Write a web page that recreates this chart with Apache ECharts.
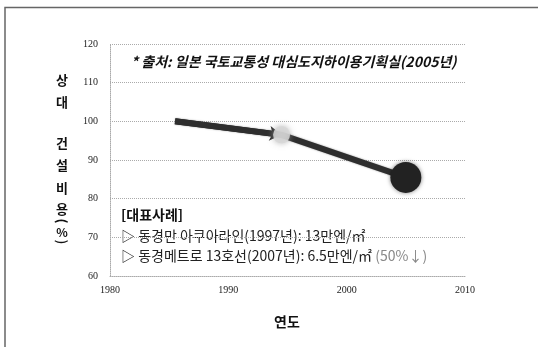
<!DOCTYPE html>
<html>
<head>
<meta charset="utf-8">
<script src="https://cdn.jsdelivr.net/npm/echarts@6/dist/echarts.min.js"></script>
<style>
  html, body { margin: 0; padding: 0; background: #fff; }
  #chart { width: 538px; height: 347px; }
</style>
</head>
<body>
<div id="chart"></div>
<script>
// Relative construction cost of deep underground works (1985 = 100)
const years = [1985.5, 1994.5, 2005];
const costIndex = [100, 96.5, 85.5];

const xTicks = { min: 1980, max: 2010, step: 10 };
const yTicks = { min: 60, max: 120, step: 10 };

const sourceNote = '* 출처: 일본 국토교통성 대심도지하이용기획실(2005년)';
const caseTitle = '[대표사례]';
const caseLines = [
  '▷ 동경만 아쿠아라인(1997년): 13만엔/㎡',
  '▷ 동경메트로 13호선(2007년): 6.5만엔/㎡'
];
const caseNote = '(50%↓)';
const xTitle = '연도';
const yTitleChars = ['상', '대', '건', '설', '비', '용', '(', '%', ')'];

const chart = echarts.init(document.getElementById('chart'), null, { renderer: 'canvas' });

const kfont = '"Noto Sans CJK KR", "Noto Sans", sans-serif';
const numFont = '"Liberation Serif", "DejaVu Serif", serif';

const points = years.map((y, i) => {
  const last = i === years.length - 1;
  const mid = i > 0 && !last;
  return {
    value: [y, costIndex[i]],
    symbol: i === 0 ? 'none' : 'circle',
    symbolSize: last ? 31 : 17,
    itemStyle: last
      ? { color: '#222', shadowBlur: 4, shadowColor: 'rgba(0,0,0,0.5)' }
      : (mid ? { color: 'rgba(215,215,215,0.85)', shadowBlur: 6, shadowColor: 'rgba(160,160,160,0.9)' } : {})
  };
});

// vertical y-axis title, one glyph per slot; brackets turned to read vertically
const yTitleY = [80, 102, 143, 165, 188, 209, 221, 232, 242];
const yTitleGraphics = yTitleChars.map((ch, i) => {
  const isBracket = ch === '(' || ch === ')';
  return {
    type: 'text',
    x: 62,
    y: yTitleY[i],
    rotation: isBracket ? -Math.PI / 2 : 0,
    style: {
      text: ch,
      font: 'bold ' + (ch === '%' ? 12 : 13) + 'px ' + kfont,
      fill: '#111',
      align: 'center',
      verticalAlign: 'middle'
    }
  };
});

const lineColor = '#2e2e2e';

chart.setOption({
  animation: false,
  backgroundColor: '#fff',
  grid: { left: 110, right: 73, top: 44, bottom: 71, containLabel: false },
  xAxis: {
    type: 'value',
    min: xTicks.min,
    max: xTicks.max,
    interval: xTicks.step,
    axisLine: { show: true, lineStyle: { color: '#aaa', type: 'dotted', width: 1 } },
    axisTick: { show: false },
    splitLine: { show: false },
    axisLabel: { color: '#222', fontFamily: numFont, fontSize: 10, margin: 9, formatter: v => String(v) }
  },
  yAxis: {
    type: 'value',
    min: yTicks.min,
    max: yTicks.max,
    interval: yTicks.step,
    axisLine: { show: true, lineStyle: { color: '#aaa', type: 'dotted', width: 1 } },
    axisTick: { show: false },
    splitLine: { show: true, lineStyle: { color: '#aaa', type: 'dotted', width: 1 } },
    axisLabel: { color: '#222', fontFamily: numFont, fontSize: 10, margin: 12, formatter: v => String(v) }
  },
  series: [{
    type: 'line',
    data: points,
    lineStyle: { color: lineColor, width: 6, cap: 'butt', shadowBlur: 2, shadowColor: 'rgba(0,0,0,0.4)' },
    markLine: {
      silent: true,
      symbol: ['none', 'arrow'],
      symbolSize: [11, 12],
      symbolOffset: [0, 0],
      label: { show: false },
      lineStyle: { color: lineColor, width: 6, type: 'solid' },
      data: [[
        { coord: [years[0], costIndex[0]] },
        { coord: [years[1], costIndex[1]] }
      ]],
      z: 2
    },
    z: 3
  }],
  graphic: [
    {
      type: 'polyline',
      shape: { points: [[5, 347], [5, 7.5], [538, 7.5]] },
      style: { stroke: '#666', lineWidth: 1.5, fill: null }
    },
    {
      type: 'text',
      x: 131,
      y: 62,
      style: {
        text: sourceNote,
        font: 'italic bold 14px ' + kfont,
        fill: '#111',
        verticalAlign: 'middle'
      }
    },
    {
      type: 'text',
      x: 121,
      y: 215,
      style: { text: caseTitle, font: 'bold 14px ' + kfont, fill: '#111', verticalAlign: 'middle' }
    },
    {
      type: 'text',
      x: 121,
      y: 236,
      style: { text: caseLines[0], font: '14px ' + kfont, fill: '#222', verticalAlign: 'middle' }
    },
    {
      type: 'text',
      x: 121,
      y: 256,
      style: {
        text: '{a|' + caseLines[1] + '} {b|' + caseNote + '}',
        font: '14px ' + kfont,
        verticalAlign: 'middle',
        rich: {
          a: { font: '14px ' + kfont, fill: '#222' },
          b: { font: '14px ' + kfont, fill: '#888' }
        }
      }
    },
    {
      type: 'text',
      x: 287,
      y: 322,
      style: { text: xTitle, font: 'bold 14px ' + kfont, fill: '#111', align: 'center', verticalAlign: 'middle' }
    }
  ].concat(yTitleGraphics)
});
</script>
</body>
</html>
